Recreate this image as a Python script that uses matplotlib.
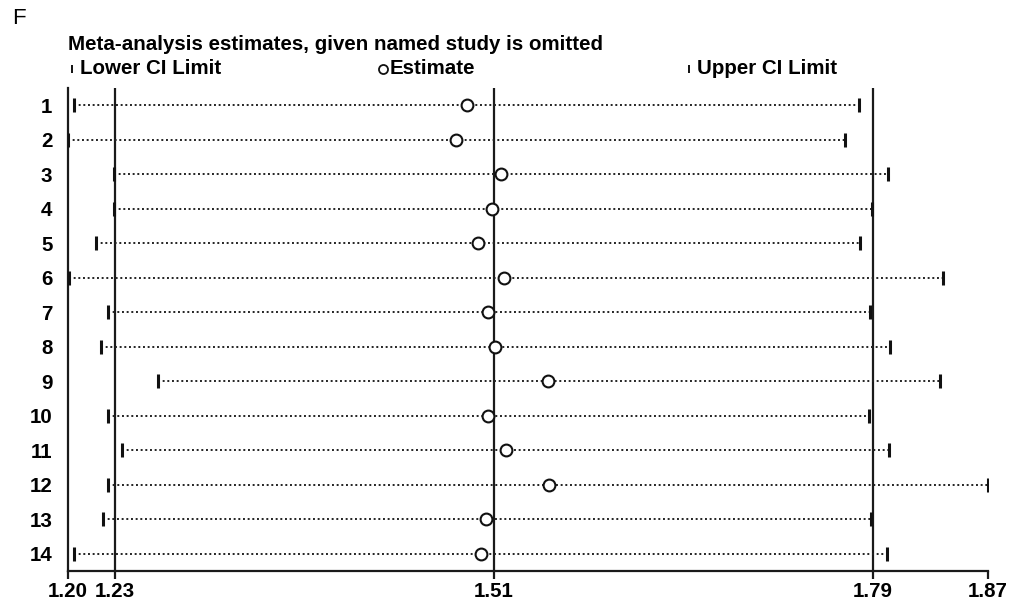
import matplotlib
matplotlib.use("Agg")
import matplotlib.pyplot as plt
from matplotlib.lines import Line2D

# Leave-one-out meta-analysis: pooled estimate and CI with each study omitted
studies = [str(i) for i in range(1, 15)]
lower = [1.2000, 1.1952, 1.2291, 1.2294, 1.2158, 1.1960, 1.2247,
         1.2197, 1.2618, 1.2247, 1.2355, 1.2247, 1.2210, 1.2000]
estimate = [1.4898, 1.4819, 1.5149, 1.5085, 1.4980, 1.5174, 1.5058,
            1.5110, 1.5501, 1.5058, 1.5189, 1.5506, 1.5041, 1.5002]
upper = [1.7798, 1.7692, 1.8010, 1.7892, 1.7801, 1.8416, 1.7877,
         1.8025, 1.8394, 1.7870, 1.8017, 1.8748, 1.7884, 1.8003]

# Overall (all studies) estimate and CI limits
overall_lower = 1.23
overall_est = 1.51
overall_upper = 1.79

tick_values = [min(lower), overall_lower, overall_est, overall_upper, max(upper)]
tick_labels = ["1.20", "1.23", "1.51", "1.79", "1.87"]

FONT = ["Liberation Sans", "DejaVu Sans"]
plt.rcParams["font.family"] = FONT
FS = 14.8

W, H = 1017, 603
fig = plt.figure(figsize=(W / 100, H / 100), dpi=100)
fig.patch.set_facecolor("white")

ax_left, ax_right, ax_top, ax_bottom = 67.7, 988, 88, 571
ax = fig.add_axes([ax_left / W, 1 - ax_bottom / H,
                   (ax_right - ax_left) / W, (ax_bottom - ax_top) / H])

n = len(studies)
ys = list(range(1, n + 1))

# Reference lines at the overall estimate and CI limits
for v in (overall_lower, overall_est, overall_upper):
    ax.axvline(v, color="#1a1a1a", lw=1.6, zorder=1)

# Dotted CI spans with limit bars and estimate circles
for y, lo, est, hi in zip(ys, lower, estimate, upper):
    ax.plot([lo, hi], [y, y], color="#222222", lw=1.4,
            linestyle=(0, (1, 1.4)), zorder=2)
ax.plot(lower, ys, linestyle="none", marker="|", markersize=10,
        mew=2.2, color="#111111", zorder=3)
ax.plot(upper, ys, linestyle="none", marker="|", markersize=10,
        mew=2.2, color="#111111", zorder=3)
ax.plot(estimate, ys, linestyle="none", marker="o", markersize=8.5,
        mfc="white", mec="#111111", mew=1.5, zorder=4)

ax.set_xlim(tick_values[0], tick_values[-1])
ax.set_ylim(n + 0.5, 0.5)

ax.set_xticks(tick_values)
ax.set_xticklabels(tick_labels, fontsize=FS, fontweight="bold")
ax.set_yticks(ys)
ax.set_yticklabels(studies, fontsize=FS, fontweight="bold")
ax.tick_params(axis="x", length=6, width=1.6, color="#1a1a1a", pad=2)
ax.tick_params(axis="y", length=0, pad=11)

for side in ("top", "right"):
    ax.spines[side].set_visible(False)
for side in ("left", "bottom"):
    ax.spines[side].set_linewidth(1.6)
    ax.spines[side].set_color("#1a1a1a")

# Panel letter, title and legend key
fig.text(12 / W, 1 - 19 / H, "F", fontsize=16, va="center", ha="left")
fig.text(68 / W, 1 - 45 / H,
         "Meta-analysis estimates, given named study is omitted",
         fontsize=FS, fontweight="bold", va="center", ha="left")

legend_y = 1 - 69 / H
fig.add_artist(Line2D([72 / W], [legend_y], marker="|", markersize=6,
                      mew=1.4, color="#111111", transform=fig.transFigure))
fig.text(80 / W, legend_y, "Lower CI Limit", fontsize=FS,
         fontweight="bold", va="center", ha="left")
fig.add_artist(Line2D([383 / W], [legend_y], marker="o", markersize=6.5,
                      mfc="white", mec="#111111", mew=1.3,
                      transform=fig.transFigure))
fig.text(390 / W, legend_y, "Estimate", fontsize=FS,
         fontweight="bold", va="center", ha="left")
fig.add_artist(Line2D([689 / W], [legend_y], marker="|", markersize=6,
                      mew=1.4, color="#111111", transform=fig.transFigure))
fig.text(697 / W, legend_y, "Upper CI Limit", fontsize=FS,
         fontweight="bold", va="center", ha="left")

fig.savefig("out.png", dpi=100, facecolor="white")
